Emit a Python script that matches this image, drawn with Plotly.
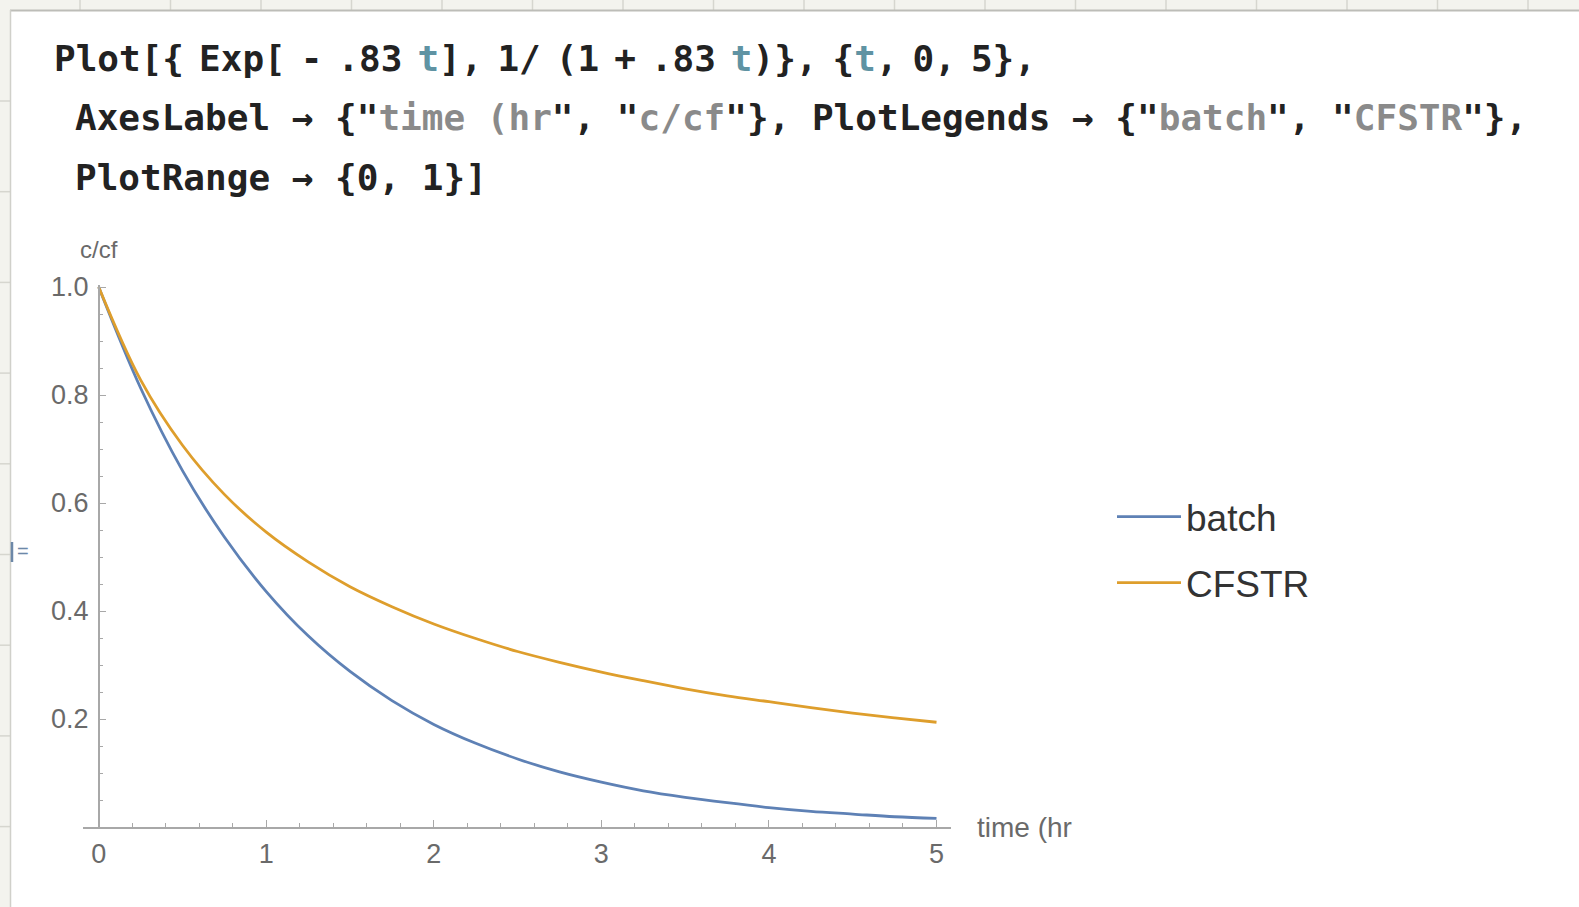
import plotly.graph_objects as go

# ---- data ----
t_vals = [0, 0.25, 0.5, 0.75, 1, 1.25, 1.5, 1.75, 2, 2.25, 2.5, 2.75, 3,
          3.25, 3.5, 3.75, 4, 4.25, 4.5, 4.75, 5]
batch_vals = [1.0, 0.813, 0.660, 0.537, 0.436, 0.354, 0.288, 0.234, 0.190,
              0.155, 0.126, 0.102, 0.083, 0.067, 0.055, 0.045, 0.036, 0.029,
              0.024, 0.019, 0.016]
cfstr_vals = [1.0, 0.828, 0.707, 0.616, 0.546, 0.491, 0.445, 0.408, 0.376,
              0.349, 0.325, 0.305, 0.287, 0.271, 0.256, 0.243, 0.232, 0.221,
              0.211, 0.202, 0.194]
series_names = ["batch", "CFSTR"]
x_ticks = [0, 1, 2, 3, 4, 5]
y_ticks = [0.2, 0.4, 0.6, 0.8, 1.0]
y_ticktext = ["0.2", "0.4", "0.6", "0.8", "1.0"]

W, H = 1579, 907
L, R, T, B = 83, 628, 285, 80
PW, PH = W - L - R, H - T - B

def px(x):
    return (x - L) / PW

def py(y):
    return (H - B - y) / PH

BLUE = "rgb(94,129,181)"
ORANGE = "rgb(222,158,44)"
AX = "#a8a8a8"
TXT = "#6a6a6a"

fig = go.Figure()
fig.add_trace(go.Scatter(x=t_vals, y=batch_vals, mode="lines", name=series_names[0],
                         line=dict(color=BLUE, width=2.8, shape="spline"),
                         legendgroup="a"))
fig.add_trace(go.Scatter(x=t_vals, y=cfstr_vals, mode="lines", name=series_names[1],
                         line=dict(color=ORANGE, width=2.8, shape="spline"),
                         legendgroup="b"))

xmin = -0.0937
xmax = 5.0865
ymax = 1.0037

shapes = []
# notebook background strips
shapes.append(dict(type="rect", xref="paper", yref="paper", x0=px(0), x1=px(W),
                   y0=py(0), y1=py(10), fillcolor="#f3f3ee", line=dict(width=0), layer="below"))
shapes.append(dict(type="rect", xref="paper", yref="paper", x0=px(0), x1=px(10),
                   y0=py(0), y1=py(H), fillcolor="#f3f3ee", line=dict(width=0), layer="below"))
xg = 80
while xg < W:
    shapes.append(dict(type="line", xref="paper", yref="paper", x0=px(xg), x1=px(xg),
                       y0=py(0), y1=py(10), line=dict(color="#d6d6cf", width=1.5)))
    xg += 90.5
yg = 101
while yg < H:
    shapes.append(dict(type="line", xref="paper", yref="paper", x0=px(0), x1=px(10),
                       y0=py(yg), y1=py(yg), line=dict(color="#d6d6cf", width=1.5)))
    yg += 90.7
shapes.append(dict(type="line", xref="paper", yref="paper", x0=px(10), x1=px(W),
                   y0=py(10.5), y1=py(10.5), line=dict(color="#bdbdb8", width=2)))
shapes.append(dict(type="line", xref="paper", yref="paper", x0=px(10.5), x1=px(10.5),
                   y0=py(10), y1=py(H), line=dict(color="#d0d0ca", width=1.5)))
# cell marker
shapes.append(dict(type="line", xref="paper", yref="paper", x0=px(12), x1=px(12),
                   y0=py(542), y1=py(562), line=dict(color="#6d88a8", width=2.5)))

annotations = []
mono = "DejaVu Sans Mono"
G = "#8a8a8a"
TT = "#5f93a3"
sp = "<span style='font-family:DejaVu Sans;font-size:43px'> </span>"
tt = "<span style='color:%s'>t</span>" % TT
line1 = ("Plot[{" + sp + "Exp[" + sp + "-" + sp + ".83" + sp + tt + "]," + sp
         + "1/" + sp + "(1" + sp + "+" + sp + ".83" + sp + tt + ")}," + sp
         + "{" + tt + "," + sp + "0," + sp + "5},")
code_lines = [
    (line1, 52, 56),
    ("AxesLabel → {\"<span style='color:%s'>time (hr</span>\", \"<span style='color:%s'>c/cf</span>\"}, PlotLegends → {\"<span style='color:%s'>batch</span>\", \"<span style='color:%s'>CFSTR</span>\"}," % (G, G, G, G), 73, 117),
    ("PlotRange → {0, 1}]", 73, 177),
]
for txt, x0, y0 in code_lines:
    annotations.append(dict(text="<b>" + txt + "</b>", xref="paper", yref="paper",
                            x=px(x0), y=py(y0), xanchor="left", yanchor="middle",
                            showarrow=False, font=dict(family=mono, size=36, color="#222222")))

annotations.append(dict(text="=", xref="paper", yref="paper", x=px(15), y=py(551),
                        xanchor="left", yanchor="middle", showarrow=False,
                        font=dict(family="Liberation Sans", size=20, color="#6d88a8")))
# axis labels
annotations.append(dict(text="c/cf", xref="paper", yref="paper", x=px(99), y=py(249),
                        xanchor="center", yanchor="middle", showarrow=False,
                        font=dict(family="Liberation Sans", size=24, color=TXT)))
annotations.append(dict(text="time (hr", xref="paper", yref="paper", x=px(975), y=py(827),
                        xanchor="left", yanchor="middle", showarrow=False,
                        font=dict(family="Liberation Sans", size=28, color=TXT)))

fig.update_layout(
    width=W, height=H,
    margin=dict(l=L, r=R, t=T, b=B, pad=0),
    paper_bgcolor="white", plot_bgcolor="white",
    shapes=shapes, annotations=annotations,
    showlegend=True,
    legend=dict(x=px(1112), y=py(486), xanchor="left", yanchor="top",
                font=dict(family="Liberation Sans", size=37, color="#333333"),
                traceorder="grouped", tracegroupgap=15, bgcolor="rgba(0,0,0,0)",
                itemwidth=64),
    xaxis=dict(range=[xmin, xmax], showgrid=False, zeroline=False,
               showline=True, linecolor=AX, linewidth=1.5,
               tickmode="array", tickvals=x_ticks,
               ticks="inside", ticklen=7, tickwidth=1.2, tickcolor=AX,
               minor=dict(tickmode="linear", tick0=0, dtick=0.2, ticks="inside",
                          ticklen=4, tickcolor=AX, tickwidth=1),
               tickfont=dict(family="Liberation Sans", size=27, color=TXT),
               ticklabelstandoff=2),
    yaxis=dict(range=[0, ymax], showgrid=False, zeroline=False,
               anchor="free", position=(0 - xmin) / (xmax - xmin),
               showline=True, linecolor=AX, linewidth=1.5,
               tickmode="array", tickvals=y_ticks, ticktext=y_ticktext,
               ticks="inside", ticklen=7, tickwidth=1.2, tickcolor=AX,
               minor=dict(tickmode="linear", tick0=0, dtick=0.05, ticks="inside",
                          ticklen=4, tickcolor=AX, tickwidth=1),
               tickfont=dict(family="Liberation Sans", size=27, color=TXT),
               ticklabelstandoff=4),
)

fig.write_html("out.html", config={"displayModeBar": False},
               post_script="document.body.style.margin='0';document.body.style.overflow='hidden';")
